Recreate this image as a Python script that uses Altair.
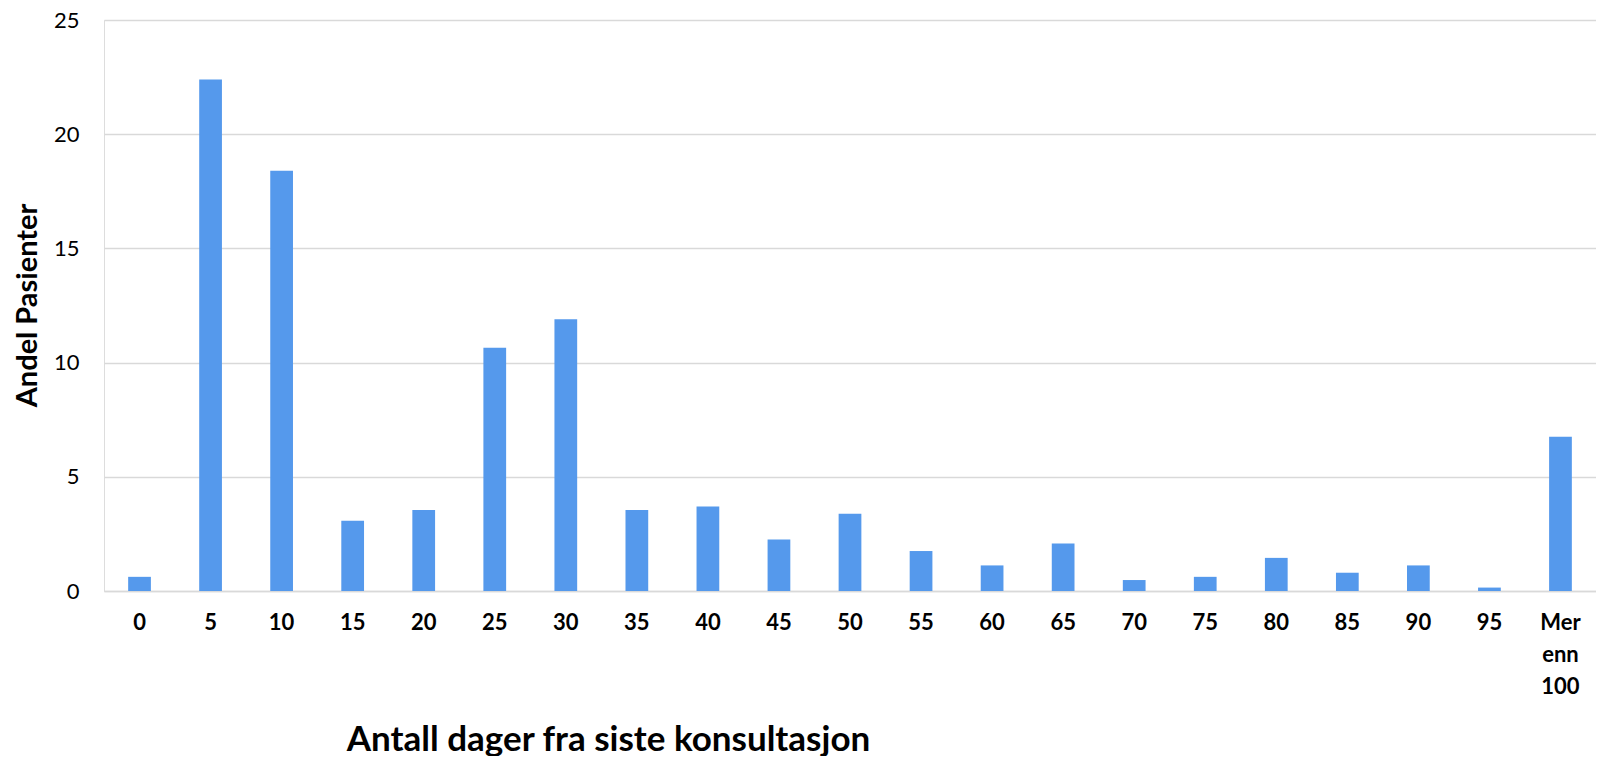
import altair as alt
import pandas as pd

categories = ["0", "5", "10", "15", "20", "25", "30", "35", "40", "45", "50",
              "55", "60", "65", "70", "75", "80", "85", "90", "95", "Mer enn 100"]
values = [0.62, 22.4, 18.4, 3.08, 3.55, 10.65, 11.9, 3.55, 3.7, 2.25, 3.38,
          1.75, 1.12, 2.08, 0.48, 0.62, 1.45, 0.8, 1.12, 0.15, 6.75]
y_ticks = [0, 5, 10, 15, 20, 25]

df = pd.DataFrame({"kategori": categories, "andel": values})

FONT = "Lato"

chart = alt.Chart(df).mark_bar(color="#5599EC").encode(
    x=alt.X(
        "kategori:N",
        sort=categories,
        scale=alt.Scale(paddingInner=0.68, paddingOuter=0.34),
        axis=alt.Axis(
            title="Antall dager fra siste konsultasjon",
            labelAngle=0,
            labelFont=FONT,
            labelFontSize=22,
            labelFontWeight="bold",
            labelColor="#000000",
            labelPadding=21,
            labelBaseline="top",
            labelLineHeight=32,
            labelExpr="datum.value == 'Mer enn 100' ? ['Mer', 'enn', '100'] : datum.value",
            ticks=False,
            domain=True,
            domainColor="#d9d9d9",
            domainWidth=1.5,
            titleFont=FONT,
            titleFontSize=35,
            titleFontWeight="bold",
            titleColor="#000000",
            titleX=504,
            titleY=159,
            titleAlign="center",
            titleBaseline="alphabetic",
            titleAnchor="start",
        ),
    ),
    y=alt.Y(
        "andel:Q",
        scale=alt.Scale(domain=[0, 25], nice=False),
        axis=alt.Axis(
            title="Andel Pasienter",
            values=y_ticks,
            labelFont=FONT,
            labelFontSize=22,
            labelColor="#000000",
            labelPadding=25,
            ticks=False,
            domain=False,
            grid=True,
            gridColor="#d9d9d9",
            gridWidth=1.3,
            titleFont=FONT,
            titleFontSize=29,
            titleFontWeight="bold",
            titleColor="#000000",
            titleX=-77,
            titleY=285,
            titleAngle=270,
            titleAlign="center",
            titleBaseline="middle",
            titleAnchor="start",
        ),
    ),
).properties(
    width=1492,
    height=571,
    autosize=alt.AutoSizeParams(type="none"),
    padding={"left": 96, "top": 12, "right": 0, "bottom": 165},
).configure_view(stroke=None).configure(background="#ffffff")

chart.save("out.html", embed_options={"renderer": "svg", "actions": False})
